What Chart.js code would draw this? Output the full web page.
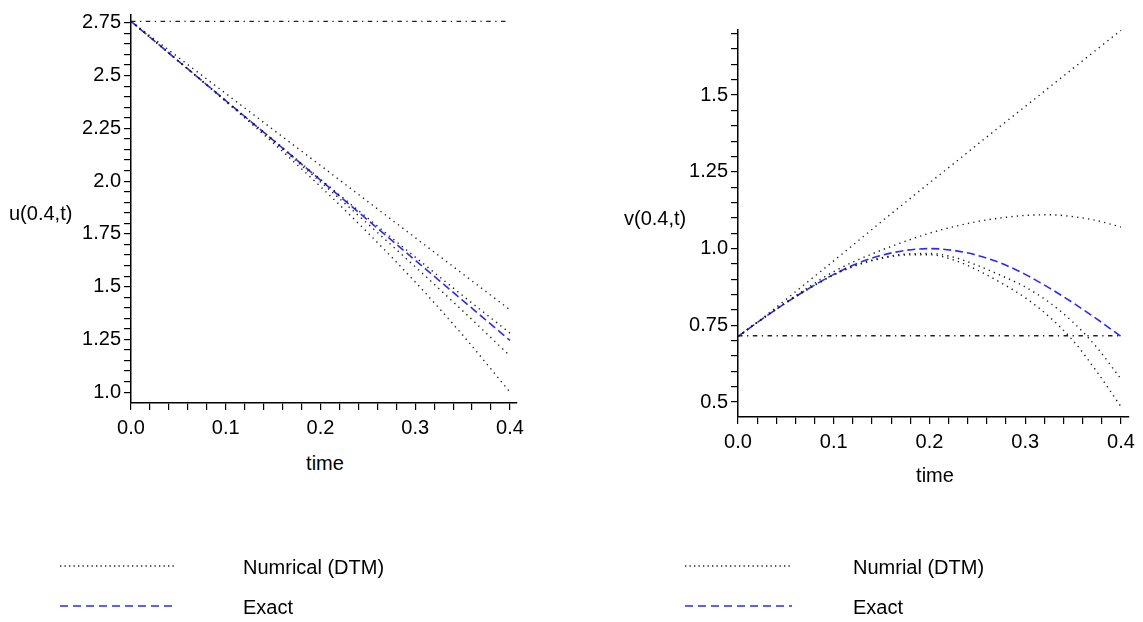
<!DOCTYPE html>
<html>
<head>
<meta charset="utf-8">
<script src="https://cdn.jsdelivr.net/npm/chart.js@4.4.1/dist/chart.umd.min.js"></script>
<style>
  html, body { margin: 0; padding: 0; background: #ffffff; }
  body { width: 1143px; height: 622px; position: relative; overflow: hidden;
         font-family: "Liberation Sans", Arial, sans-serif; color: #000; }
  canvas { position: absolute; }
  .lbl { position: absolute; font-size: 20px; line-height: 20px; white-space: nowrap; }
  .ctr { text-align: center; width: 120px; }
  svg { position: absolute; left: 0; top: 0; }
</style>
</head>
<body>
<canvas id="cu" width="560" height="450" style="left:0px;top:0px;width:560px;height:450px"></canvas>
<canvas id="cv" width="563" height="470" style="left:580px;top:0px;width:563px;height:470px"></canvas>

<div class="lbl" style="left:9px;top:203px;">u(0.4,t)</div>
<div class="lbl" style="left:624px;top:208px;">v(0.4,t)</div>
<div class="lbl ctr" style="left:265px;top:453px;">time</div>
<div class="lbl ctr" style="left:875px;top:465px;">time</div>

<svg width="1143" height="622">
  <line x1="60" y1="566" x2="175" y2="566" stroke="#222" stroke-width="1.3" stroke-dasharray="1.3 3.2"/>
  <line x1="60" y1="606" x2="175" y2="606" stroke="#2a2aff" stroke-width="1.6" stroke-dasharray="8 5"/>
  <line x1="685" y1="566" x2="792" y2="566" stroke="#222" stroke-width="1.3" stroke-dasharray="1.3 3.2"/>
  <line x1="685" y1="606" x2="792" y2="606" stroke="#2a2aff" stroke-width="1.6" stroke-dasharray="8 5"/>
</svg>
<div class="lbl" style="left:243px;top:557px;">Numrical (DTM)</div>
<div class="lbl" style="left:243px;top:597px;">Exact</div>
<div class="lbl" style="left:853px;top:557px;">Numrial (DTM)</div>
<div class="lbl" style="left:853px;top:597px;">Exact</div>

<script>
// ---------- data ----------
const tLeft = [0, 0.05, 0.1, 0.15, 0.2, 0.25, 0.3, 0.35, 0.4];
const uExact = [2.757, 2.569, 2.381, 2.194, 2.005, 1.815, 1.625, 1.435, 1.245];
const uDTM1  = [2.757, 2.586, 2.415, 2.244, 2.074, 1.903, 1.732, 1.561, 1.390];
const uDTM2  = [2.757, 2.569, 2.382, 2.196, 2.009, 1.824, 1.640, 1.458, 1.280];
const uDTM3  = [2.757, 2.569, 2.380, 2.190, 1.996, 1.797, 1.594, 1.386, 1.172];
const uDTM4  = [2.757, 2.569, 2.377, 2.181, 1.974, 1.755, 1.522, 1.271, 1.000];
const uInit  = [2.757, 2.757];

const tRight = [0, 0.025, 0.05, 0.075, 0.1, 0.125, 0.15, 0.175, 0.2, 0.225, 0.25, 0.275, 0.3, 0.325, 0.35, 0.375, 0.4];
const vExact = [0.714, 0.770, 0.823, 0.872, 0.916, 0.952, 0.978, 0.994, 1.000, 0.994, 0.978, 0.952, 0.916, 0.872, 0.823, 0.770, 0.714];
const vDTM1  = [0.714, 0.772, 0.834, 0.897, 0.960, 1.024, 1.088, 1.151, 1.214, 1.276, 1.339, 1.401, 1.463, 1.525, 1.587, 1.649, 1.711];
const vDTM2  = [0.714, 0.770, 0.825, 0.877, 0.925, 0.963, 0.995, 1.024, 1.050, 1.071, 1.088, 1.100, 1.108, 1.110, 1.104, 1.091, 1.070];
const vDTM3  = [0.714, 0.770, 0.823, 0.871, 0.915, 0.948, 0.970, 0.982, 0.984, 0.972, 0.945, 0.912, 0.875, 0.825, 0.760, 0.677, 0.575];
const vDTM4  = [0.714, 0.770, 0.823, 0.871, 0.914, 0.946, 0.968, 0.979, 0.980, 0.963, 0.930, 0.888, 0.840, 0.778, 0.700, 0.598, 0.485];
const vInit  = [0.716, 0.716];
const tEnds  = [0, 0.4];

const xTickVals = [0, 0.02, 0.04, 0.06, 0.08, 0.1, 0.12, 0.14, 0.16, 0.18, 0.2, 0.22, 0.24, 0.26, 0.28, 0.3, 0.32, 0.34, 0.36, 0.38, 0.4];
const xTickLabels = { "0": "0.0", "0.1": "0.1", "0.2": "0.2", "0.3": "0.3", "0.4": "0.4" };
const uTickVals = [1.0,1.05,1.1,1.15,1.2,1.25,1.3,1.35,1.4,1.45,1.5,1.55,1.6,1.65,1.7,1.75,1.8,1.85,1.9,1.95,2.0,2.05,2.1,2.15,2.2,2.25,2.3,2.35,2.4,2.45,2.5,2.55,2.6,2.65,2.7,2.75];
const uTickLabels = { "1": "1.0", "1.25": "1.25", "1.5": "1.5", "1.75": "1.75", "2": "2.0", "2.25": "2.25", "2.5": "2.5", "2.75": "2.75" };
const vTickVals = [0.5,0.55,0.6,0.65,0.7,0.75,0.8,0.85,0.9,0.95,1.0,1.05,1.1,1.15,1.2,1.25,1.3,1.35,1.4,1.45,1.5,1.55,1.6,1.65,1.7];
const vTickLabels = { "0.5": "0.5", "0.75": "0.75", "1": "1.0", "1.25": "1.25", "1.5": "1.5" };

// ---------- helpers ----------
const FONT = { family: "'Liberation Sans', Arial, sans-serif", size: 20 };
function pts(xs, ys) { return xs.map((x, i) => ({ x: x, y: ys[i] })); }
function lookup(map, v) {
  for (const k in map) { if (Math.abs(parseFloat(k) - v) < 1e-6) return map[k]; }
  return '';
}
const dotted = { borderColor: '#1a1a1a', borderWidth: 1.4, borderDash: [1.3, 4.2] };
const dashed = { borderColor: '#2a2aff', borderWidth: 1.6, borderDash: [8, 4] };
const dashdot = { borderColor: '#222', borderWidth: 1.3, borderDash: [4.5, 4.5, 1.3, 4.5], tension: 0 };

function ds(data, style) {
  return Object.assign({ data: data, pointRadius: 0, fill: false,
    cubicInterpolationMode: 'monotone', clip: false }, style);
}

function axisX(max, h) {
  return {
    type: 'linear', min: 0, max: max,
    afterBuildTicks: s => { s.ticks = xTickVals.map(v => ({ value: v })); },
    afterFit: s => { s.height = h; },
    ticks: { autoSkip: false, maxRotation: 0, minRotation: 0, padding: 6, color: '#000', font: FONT,
             callback: v => lookup(xTickLabels, v) },
    grid: { drawOnChartArea: false, drawTicks: true, tickLength: 7, color: '#000', lineWidth: 1.2 },
    border: { display: true, color: '#000', width: 1.5 }
  };
}
function axisY(min, max, w, vals, labels) {
  return {
    type: 'linear', min: min, max: max,
    afterBuildTicks: s => { s.ticks = vals.map(v => ({ value: v })); },
    afterFit: s => { s.width = w; },
    ticks: { autoSkip: false, padding: 3, color: '#000', font: FONT,
             callback: v => lookup(labels, v) },
    grid: { drawOnChartArea: false, drawTicks: true, tickLength: 7, color: '#000', lineWidth: 1.2 },
    border: { display: true, color: '#000', width: 1.5 }
  };
}
function baseOpts(padding, xs, ys) {
  return {
    responsive: false, animation: false, devicePixelRatio: 1,
    layout: { padding: padding },
    plugins: { legend: { display: false }, tooltip: { enabled: false } },
    scales: { x: xs, y: ys }
  };
}

// ---------- left chart: u(0.4,t) ----------
new Chart(document.getElementById('cu'), {
  type: 'line',
  data: { datasets: [
    ds(pts(tEnds, uInit), dashdot),
    ds(pts(tLeft, uDTM1), dotted),
    ds(pts(tLeft, uDTM2), dotted),
    ds(pts(tLeft, uDTM3), dotted),
    ds(pts(tLeft, uDTM4), dotted),
    ds(pts(tLeft, uExact), dashed)
  ]},
  options: baseOpts({ left: 0, right: 43, top: 8, bottom: 0 },
                    axisX(0.4074, 47),
                    axisY(0.9488, 2.787, 131, uTickVals, uTickLabels))
});

// ---------- right chart: v(0.4,t) ----------
new Chart(document.getElementById('cv'), {
  type: 'line',
  data: { datasets: [
    ds(pts(tEnds, vInit), dashdot),
    ds(pts(tRight, vDTM1), dotted),
    ds(pts(tRight, vDTM2), dotted),
    ds(pts(tRight, vDTM3), dotted),
    ds(pts(tRight, vDTM4), dotted),
    ds(pts(tRight, vExact), dashed)
  ]},
  options: baseOpts({ left: 0, right: 14, top: 30, bottom: 0 },
                    axisX(0.4084, 53),
                    axisY(0.4513, 1.712, 158, vTickVals, vTickLabels))
});
</script>
</body>
</html>
